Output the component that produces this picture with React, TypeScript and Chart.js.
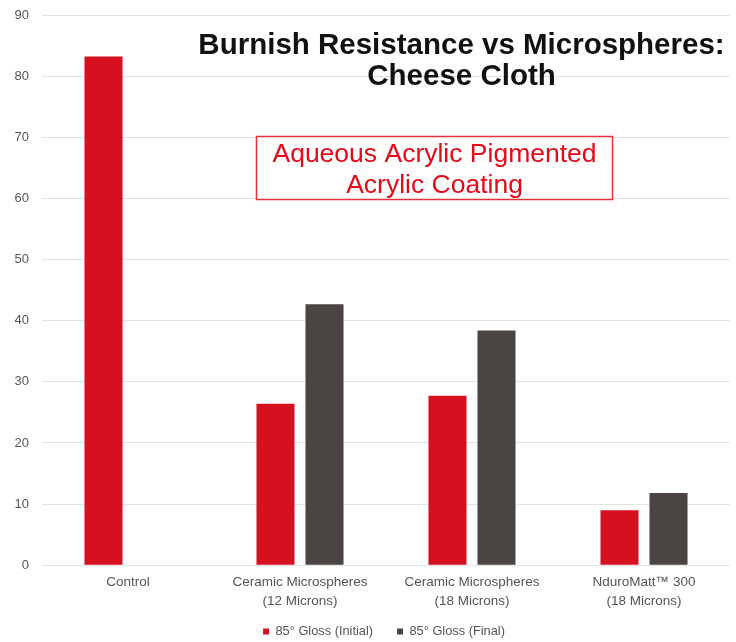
import React, { useEffect, useRef } from "react";
import { Chart, registerables } from "chart.js";

Chart.register(...registerables);

const categories: string[][] = [
  ["Control"],
  ["Ceramic Microspheres", "(12 Microns)"],
  ["Ceramic Microspheres", "(18 Microns)"],
  ["NduroMatt™ 300", "(18 Microns)"],
];
const initialGloss: (number | null)[] = [83.2, 26.4, 27.7, 9.0];
const finalGloss: (number | null)[] = [null, 42.7, 38.4, 11.8];
const seriesLabels = ["85° Gloss (Initial)", "85° Gloss (Final)"];
const yMin = 0;
const yMax = 90;
const yStep = 10;
const titleLines = ["Burnish Resistance vs Microspheres:", "Cheese Cloth"];
const noteLines = ["Aqueous Acrylic Pigmented", "Acrylic Coating"];

const RED = "#d7101f";
const GREY = "#4a4543";
const FONT = "'Liberation Sans', Arial, Helvetica, sans-serif";

const overlayPlugin = {
  id: "overlay",
  afterLayout(chart: any) {
    // widen the clip box of the x axis so its two-line labels are not cut
    const x = chart.scales.x;
    if (x) x.bottom = chart.height;
    if (chart.legend) {
      chart.legend.left += 19;
      chart.legend.right += 19;
    }
  },
  afterDatasetsDraw(chart: any) {
    const ctx = chart.ctx as CanvasRenderingContext2D;
    ctx.save();
    ctx.textAlign = "center";
    ctx.textBaseline = "alphabetic";
    ctx.fillStyle = "#111111";
    ctx.font = `bold 29.5px ${FONT}`;
    ctx.fillText(titleLines[0], 461.5, 54);
    ctx.fillText(titleLines[1], 461.5, 84.5);

    ctx.fillStyle = "#ffffff";
    ctx.fillRect(256, 136, 357, 64);
    ctx.strokeStyle = "#e5323b";
    ctx.lineWidth = 1.5;
    ctx.strokeRect(256.5, 136.5, 356, 63);
    ctx.fillStyle = "#e20a17";
    ctx.font = `26.5px ${FONT}`;
    ctx.fillText(noteLines[0], 434.5, 162);
    ctx.fillText(noteLines[1], 434.5, 193);
    ctx.restore();
  },
};

export default function App() {
  const canvasRef = useRef<HTMLCanvasElement | null>(null);

  useEffect(() => {
    if (!canvasRef.current) return;
    const chart = new Chart(canvasRef.current, {
      type: "bar",
      data: {
        labels: categories,
        datasets: [
          {
            label: seriesLabels[0],
            data: initialGloss,
            backgroundColor: RED,
            borderWidth: 0,
            categoryPercentage: 0.57,
            barPercentage: 0.776,
          },
          {
            label: seriesLabels[1],
            data: finalGloss,
            backgroundColor: GREY,
            borderWidth: 0,
            categoryPercentage: 0.57,
            barPercentage: 0.776,
          },
        ],
      },
      options: {
        animation: false,
        responsive: true,
        maintainAspectRatio: false,
        layout: { padding: { left: 0, right: 6, top: 15, bottom: -6 } },
        plugins: {
          title: { display: false },
          tooltip: { enabled: false },
          legend: {
            display: true,
            position: "bottom",
            labels: {
              boxWidth: 6,
              boxHeight: 6,
              padding: 24,
              color: "#555555",
              font: { family: FONT, size: 12.8 },
            },
          },
        },
        scales: {
          x: {
            grid: { display: false, drawTicks: false },
            border: { display: false },
            ticks: {
              color: "#555555",
              padding: 8,
              font: { family: FONT, size: 13.5, lineHeight: 1.4 },
              maxRotation: 0,
              autoSkip: false,
            },
            afterFit: (scale: any) => {
              scale.height = 36;
            },
          },
          y: {
            min: yMin,
            max: yMax,
            grid: { color: "#e3e3e3", lineWidth: 1, drawTicks: false },
            border: { display: false },
            ticks: {
              stepSize: yStep,
              color: "#555555",
              padding: 13,
              font: { family: FONT, size: 13 },
            },
            afterFit: (scale: any) => {
              scale.width = 42;
              scale.paddingTop = 0;
              scale.paddingBottom = 0;
            },
          },
        },
      } as any,
      plugins: [overlayPlugin],
    });
    return () => chart.destroy();
  }, []);

  return (
    <div style={{ position: "absolute", left: 0, top: 0, width: 736, height: 642, background: "#fff" }}>
      <canvas ref={canvasRef} />
    </div>
  );
}
